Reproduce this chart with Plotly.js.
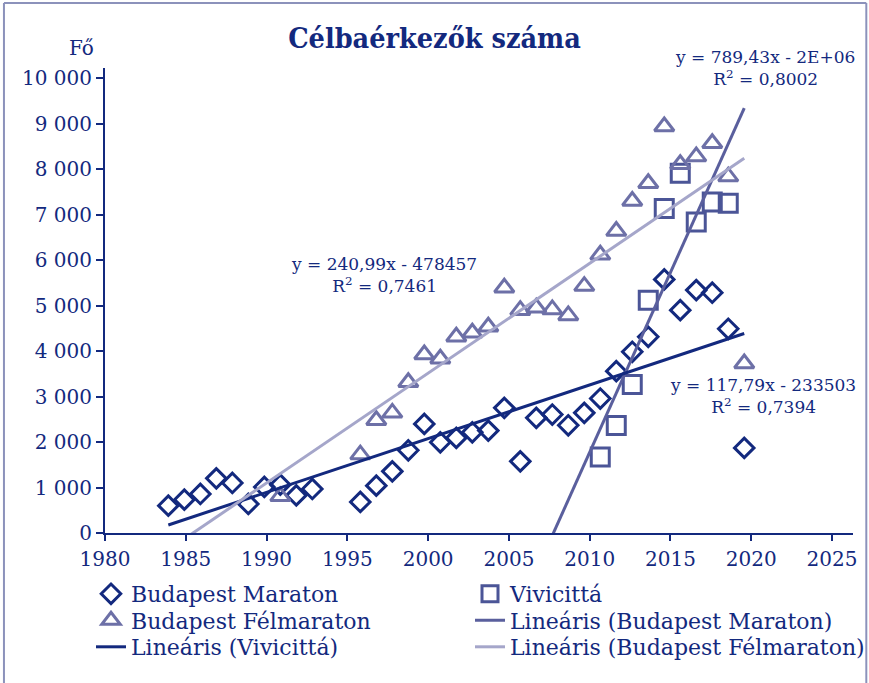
<!DOCTYPE html>
<html><head><meta charset="utf-8">
<script src="https://cdn.plot.ly/plotly-3.0.1.min.js"></script>
<style>html,body{margin:0;padding:0;background:#fff}</style>
</head><body>
<div id="chart" style="width:869px;height:683px"></div>
<script>
// ---- data ----
const years = [1984,1985,1986,1987,1988,1989,1990,1991,1992,1993,1994,1995,1996,1997,1998,1999,2000,2001,2002,2003,2004,2005,2006,2007,2008,2009,2010,2011,2012,2013,2014,2015,2016,2017,2018,2019,2020];
const maraton = [601,733,859,1203,1101,639,1013,1064,828,969,null,null,683,1042,1357,1820,2400,1996,2092,2216,2253,2753,1577,2533,2606,2370,2643,2958,3560,3987,4317,5579,4903,5344,5286,4493,1872];
const felmaraton = [null,null,null,null,null,null,null,806,null,null,null,null,1725,2480,2643,3317,3927,3833,4317,4405,4537,5396,4903,4956,4918,4786,5432,6120,6643,7304,7694,8943,8112,8282,8575,7841,3729];
const vivicitta = [null,null,null,null,null,null,null,null,null,null,null,null,null,null,null,null,null,null,null,null,null,null,null,null,null,null,null,1674,2363,3267,5123,7137,7914,6841,7282,7253,null];
const seriesNames = ['Budapest Maraton','Vivicittá','Budapest Félmaraton','Lineáris (Budapest Maraton)','Lineáris (Vivicittá)','Lineáris (Budapest Félmaraton)'];
const yTickVals = [0,1000,2000,3000,4000,5000,6000,7000,8000,9000,10000];
const xTickVals = [1980,1985,1990,1995,2000,2005,2010,2015,2020,2025];
const eqVivicitta = ['y = 789,43x - 2E+06','R<sup>2</sup> = 0,8002'];
const eqFelmaraton = ['y = 240,99x - 478457','R<sup>2</sup> = 0,7461'];
const eqMaraton = ['y = 117,79x - 233503','R<sup>2</sup> = 0,7394'];

// least-squares linear trend over the shared year span
function trend(xs, ys){
  const px=[],py=[];
  xs.forEach((x,i)=>{ if(ys[i]!==null){px.push(x);py.push(ys[i]);} });
  const n=px.length, mx=px.reduce((a,b)=>a+b,0)/n, my=py.reduce((a,b)=>a+b,0)/n;
  let sxy=0,sxx=0; for(let i=0;i<n;i++){sxy+=(px[i]-mx)*(py[i]-my);sxx+=(px[i]-mx)**2;}
  const b=sxy/sxx, a=my-b*mx;
  const tx=[xs[0], xs[xs.length-1]];
  return {x:tx, y:tx.map(v=>a+b*v)};
}

const NAVY='#13297e', SQ='#4b5597', TRI='#6d70a7', STEEP='#5a5f9d', LIGHT='#a5a6ca';
const FONT='DejaVu Serif, Liberation Serif, serif';

const tM = trend(years, maraton), tF = trend(years, felmaraton), tV = trend(years, vivicitta);

const traces = [
  {x:years,y:maraton,name:seriesNames[0],type:'scatter',mode:'markers',xaxis:'x2',legend:'legend',
   marker:{symbol:'diamond-open',size:15,color:NAVY,line:{width:3,color:NAVY}}},
  {x:years,y:vivicitta,name:seriesNames[1],type:'scatter',mode:'markers',xaxis:'x2',legend:'legend2',
   marker:{symbol:'square-open',size:18,color:SQ,line:{width:3,color:SQ}}},
  {x:years,y:felmaraton,name:seriesNames[2],type:'scatter',mode:'markers',xaxis:'x2',legend:'legend3',
   marker:{symbol:'triangle-up-open',size:17,color:TRI,line:{width:3,color:TRI}}},
  {x:tV.x,y:tV.y,name:seriesNames[3],type:'scatter',mode:'lines',xaxis:'x2',legend:'legend4',
   line:{color:STEEP,width:3}},
  {x:tM.x,y:tM.y,name:seriesNames[4],type:'scatter',mode:'lines',xaxis:'x2',legend:'legend5',
   line:{color:NAVY,width:3}},
  {x:tF.x,y:tF.y,name:seriesNames[5],type:'scatter',mode:'lines',xaxis:'x2',legend:'legend6',
   line:{color:LIGHT,width:3}},
  // empty trace so the visible year axis gets drawn with its ticks
  {x:[],y:[],type:'scatter',mode:'markers',xaxis:'x',showlegend:false,hoverinfo:'skip'}
];

const L=105, R=16.3, T=68, B=149.7;
const W=869-L-R, H=683-T-B;
const pxX = px => (px-L)/W, pxY = py => (683-B-py)/H;

function eqAnn(lines, cx, cy){
  return {xref:'paper',yref:'paper',x:pxX(cx),y:pxY(cy),text:lines.join('<br>'),showarrow:false,
    xanchor:'center',yanchor:'middle',align:'center',font:{family:FONT,size:17,color:NAVY}};
}
function legendAt(lx, cy){
  return {orientation:'v',xref:'container',yref:'container',x:lx/869,y:1-cy/683,xanchor:'left',yanchor:'middle',
    itemwidth:30,tracegroupgap:0,
    font:{family:FONT,size:22,color:NAVY},bgcolor:'rgba(0,0,0,0)'};
}

const layout = {
  width:869,height:683,
  margin:{l:L,r:R,t:T,b:B,pad:0,autoexpand:false},
  paper_bgcolor:'#fff',plot_bgcolor:'#fff',
  separators:', ',
  showlegend:true,
  title:{text:'<b>Célbaérkezők száma</b>',x:0.5,xref:'container',xanchor:'center',y:1-38/683,yref:'container',yanchor:'middle',
    font:{family:'DejaVu Serif Condensed, DejaVu Serif, serif',size:28.5,color:NAVY}},
  xaxis:{type:'linear',range:[1980,1980+W/16.15],tickvals:xTickVals,ticktext:xTickVals.map(String),ticks:'outside',ticklen:6,tickwidth:2,tickcolor:NAVY,
    showline:true,linecolor:NAVY,linewidth:2,showgrid:false,zeroline:false,showticklabels:true,automargin:false,
    tickfont:{family:FONT,size:20,color:NAVY},ticklabelstandoff:1},
  xaxis2:{type:'linear',overlaying:'x',anchor:'y',range:[1984-(168.3-L)/15.99, 2020+(869-R-744)/15.99],visible:false,showgrid:false,zeroline:false},
  yaxis:{type:'linear',range:[0,10230],tickvals:yTickVals,tickformat:',d',ticks:'outside',ticklen:7,tickwidth:2,tickcolor:NAVY,
    showline:true,linecolor:NAVY,linewidth:2,showgrid:false,zeroline:false,automargin:false,
    tickfont:{family:FONT,size:20,color:NAVY},ticklabelstandoff:0},
  legend:legendAt(91,594),
  legend2:legendAt(470,594),
  legend3:legendAt(91,620.5),
  legend4:legendAt(470,620.5),
  legend5:legendAt(91,647),
  legend6:legendAt(470,647),
  annotations:[
    eqAnn(eqVivicitta,765,67.5),
    eqAnn(eqFelmaraton,384,275.5),
    eqAnn(eqMaraton,763,396.5),
    {xref:'paper',yref:'paper',x:pxX(82),y:pxY(48),text:'Fő',showarrow:false,xanchor:'center',yanchor:'middle',
     font:{family:FONT,size:20,color:NAVY}}
  ],
  shapes:[
    {type:'line',xref:'paper',yref:'paper',x0:pxX(4),x1:pxX(4),y0:pxY(3),y1:pxY(690),line:{color:'#8c92bb',width:2}},
    {type:'line',xref:'paper',yref:'paper',x0:pxX(4),x1:pxX(866),y0:pxY(3),y1:pxY(3),line:{color:'#8c92bb',width:2}},
    {type:'line',xref:'paper',yref:'paper',x0:pxX(866),x1:pxX(866),y0:pxY(3),y1:pxY(690),line:{color:'#8c92bb',width:2}}
  ]
};

Plotly.newPlot('chart', traces, layout, {displayModeBar:false,staticPlot:true});
</script>
</body></html>
